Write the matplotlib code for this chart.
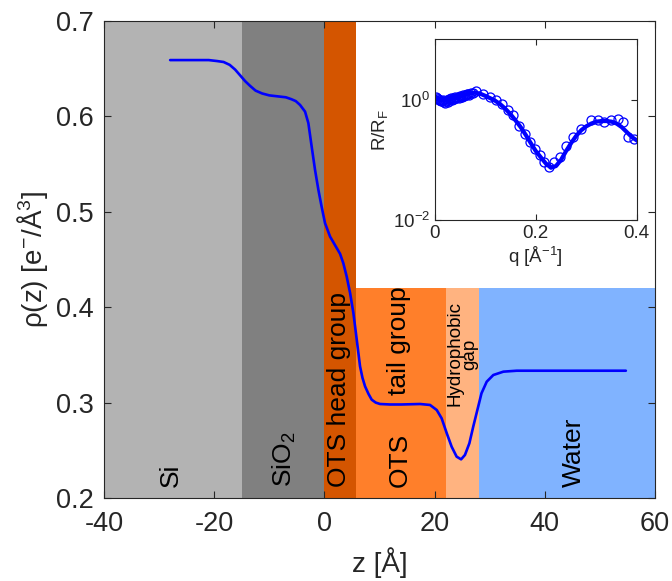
import matplotlib
matplotlib.use("Agg")
import matplotlib.pyplot as plt

plt.rcParams['font.family'] = ['Liberation Sans', 'DejaVu Sans']
plt.rcParams['mathtext.fontset'] = 'custom'
plt.rcParams['mathtext.rm'] = 'Liberation Sans'
plt.rcParams['mathtext.it'] = 'Liberation Sans'
plt.rcParams['axes.unicode_minus'] = False

# electron density profile rho(z)
z_prof = [-28.0, -24.0, -21.0, -19.5, -18.3, -17.2, -16.2, -15.3, -14.4, -13.5,
          -12.5, -11.3, -10.0, -8.5, -7.0, -6.0, -5.2, -4.43, -3.52, -2.92,
          -2.31, -1.71, -1.10, -0.50, 0.11, 1.02, 1.92, 2.83, 3.43, 4.04,
          4.65, 5.25, 5.86, 6.46, 6.9, 7.37, 8.0, 8.58, 9.3, 10.09,
          11.9, 14.0, 17.35, 19.16, 20.38, 21.27, 22.2, 23.08, 23.99, 24.8,
          25.5, 26.3, 27.0, 27.75, 28.5, 29.45, 30.65, 32.47, 34.9, 40.0,
          48.0, 54.7]
rho_prof = [0.659, 0.659, 0.659, 0.658, 0.657, 0.654, 0.649, 0.643, 0.637, 0.632,
            0.627, 0.624, 0.622, 0.621, 0.620, 0.618, 0.616, 0.612, 0.605, 0.593,
            0.568, 0.544, 0.523, 0.505, 0.488, 0.474, 0.465, 0.456, 0.446, 0.432,
            0.415, 0.394, 0.366, 0.338, 0.326, 0.317, 0.309, 0.303, 0.300, 0.2985,
            0.298, 0.298, 0.2985, 0.2975, 0.2922, 0.2835, 0.2678, 0.2538, 0.2433, 0.2405,
            0.2451, 0.2573, 0.2747, 0.2922, 0.3097, 0.3219, 0.3289, 0.3324, 0.3334, 0.3334,
            0.3334, 0.3334]

# layer boundaries, top of shading and colour
layer_names = ['Si', 'SiO2', 'OTS head', 'OTS tail', 'gap', 'Water']
layer_z0 = [-40, -15, 0, 5.8, 22, 28]
layer_z1 = [-15, 0, 5.8, 22, 28, 60]
layer_top = [0.7, 0.7, 0.7, 0.42, 0.42, 0.42]
layer_col = ['#b3b3b3', '#808080', '#d45500', '#ff7f2a', '#ffb380', '#80b3ff']

# reflectivity data and fit, R/R_F vs q
q_data = [0.003, 0.005, 0.007, 0.009, 0.011, 0.013, 0.015, 0.017, 0.019, 0.021,
          0.023, 0.025, 0.027, 0.029, 0.031, 0.033, 0.035, 0.037, 0.039, 0.041,
          0.043, 0.045, 0.047, 0.049, 0.051, 0.053, 0.055, 0.057, 0.059, 0.061,
          0.063, 0.065, 0.068, 0.071, 0.075, 0.082, 0.096, 0.109, 0.122, 0.134,
          0.145, 0.155, 0.167, 0.178, 0.188, 0.198, 0.208, 0.217, 0.227, 0.237,
          0.247, 0.260, 0.273, 0.290, 0.310, 0.323, 0.336, 0.349, 0.362, 0.372,
          0.382, 0.395]
r_data = [1.10, 1.05, 1.02, 0.98, 1.00, 0.95, 0.93, 0.97, 0.92, 0.88,
          0.95, 1.00, 0.90, 1.02, 0.97, 1.05, 1.00, 1.08, 1.03, 1.10,
          1.05, 1.12, 1.08, 1.15, 1.10, 1.12, 1.18, 1.15, 1.20, 1.17,
          1.25, 1.22, 1.20, 1.30, 1.28, 1.37, 1.24, 1.12, 0.99, 0.83,
          0.66, 0.55, 0.36, 0.27, 0.20, 0.15, 0.12, 0.092, 0.076, 0.092,
          0.11, 0.17, 0.24, 0.33, 0.46, 0.45, 0.42, 0.45, 0.48, 0.42,
          0.24, 0.22]
q_fit = [0.0, 0.01, 0.02, 0.03, 0.04, 0.05, 0.06, 0.07, 0.08, 0.09,
         0.10, 0.11, 0.12, 0.13, 0.14, 0.15, 0.16, 0.17, 0.18, 0.19,
         0.20, 0.21, 0.22, 0.23, 0.24, 0.25, 0.26, 0.27, 0.28, 0.29,
         0.30, 0.31, 0.32, 0.33, 0.34, 0.35, 0.36, 0.37, 0.38, 0.39, 0.40]
r_fit = [1.08, 1.0, 0.97, 1.0, 1.05, 1.12, 1.2, 1.28, 1.3, 1.25,
         1.15, 1.05, 0.95, 0.83, 0.70, 0.57, 0.45, 0.35, 0.26, 0.19,
         0.14, 0.11, 0.087, 0.074, 0.079, 0.10, 0.14, 0.19, 0.25, 0.31,
         0.36, 0.40, 0.43, 0.44, 0.44, 0.43, 0.40, 0.35, 0.29, 0.24, 0.21]

dark = '#262626'

fig = plt.figure(figsize=(6.72, 5.81), dpi=100)
ax = fig.add_axes([0.1548, 0.1429, 0.820, 0.821])

for z0, z1, top, c in zip(layer_z0, layer_z1, layer_top, layer_col):
    ax.fill_between([z0, z1], 0.2, top, color=c, lw=0, zorder=1)

ax.plot(z_prof, rho_prof, color='#0000ff', lw=1.9, zorder=3,
        solid_joinstyle='round', solid_capstyle='round')

# layer labels
lab = dict(rotation=90, ha='center', va='bottom', fontsize=19, color='k', zorder=4)
ax.text(-27.9, 0.212, 'Si', **lab)
ax.text(-7.3, 0.212, 'SiO$_{\\mathregular{2}}$', **lab)
ax.text(2.6, 0.212, 'OTS head group', **lab)
ax.text(13.6, 0.212, 'OTS', **lab)
ax.text(13.6, 0.308, 'tail group', **lab)
ax.text(25.0, 0.296, 'Hydrophobic\ngap', rotation=90, ha='center', va='bottom',
        fontsize=13.5, linespacing=0.85, zorder=4)
ax.text(45.3, 0.212, 'Water', **lab)

ax.set_xlim(-40, 60)
ax.set_ylim(0.2, 0.7)
ax.set_xticks([-40, -20, 0, 20, 40, 60])
ax.set_yticks([0.2, 0.3, 0.4, 0.5, 0.6, 0.7])
ax.set_yticklabels(['0.2', '0.3', '0.4', '0.5', '0.6', '0.7'])
ax.tick_params(direction='in', top=True, right=True, labelsize=19.5,
               colors=dark, length=5, width=0.8)
ax.tick_params(axis='x', pad=9.5)
ax.tick_params(axis='y', pad=7.5)
for s in ax.spines.values():
    s.set_color(dark)
    s.set_linewidth(0.8)
    s.set_zorder(5)
ax.set_xlabel('z [Å]', fontsize=20, color=dark, labelpad=7)
ax.set_ylabel('ρ(z) [e$^{\\mathregular{-}}$/Å$^{\\mathregular{3}}$]', fontsize=20,
              color=dark, labelpad=4)

# inset: reflectivity normalised by Fresnel
ins = fig.add_axes([0.647, 0.621, 0.3006, 0.3115])
ins.set_yscale('log')
ins.plot(q_data, r_data, 'o', mfc='none', mec='#0000ff', ms=6.5, mew=0.9)
ins.plot(q_fit, r_fit, color='#0000ff', lw=3.0, solid_joinstyle='round')
ins.set_xlim(0, 0.4)
ins.set_ylim(1e-2, 1e1)
ins.set_xticks([0, 0.2, 0.4])
ins.set_xticklabels(['0', '0.2', '0.4'])
ins.set_yticks([1e-2, 1e0])
ins.set_yticklabels(['10$^{\\mathregular{-2}}$', '10$^{\\mathregular{0}}$'])
ins.minorticks_off()
ins.tick_params(direction='in', top=True, right=True, labelsize=13.5,
                colors=dark, length=4, width=0.8)
for s in ins.spines.values():
    s.set_color(dark)
    s.set_linewidth(0.8)
ins.set_xlabel('q [Å$^{\\mathregular{-1}}$]', fontsize=13.5, color=dark, labelpad=2)
ins.set_ylabel('R/R$_{\\mathregular{F}}$', fontsize=13.5, color=dark, labelpad=2)

fig.savefig('out.png', dpi=100)
